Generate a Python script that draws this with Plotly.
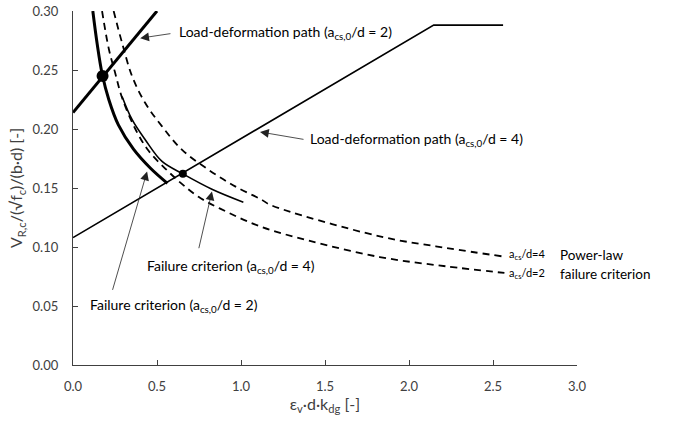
import plotly.graph_objects as go

# ---- data ----
ld2_x = [0.0, 0.50]
ld2_y = [0.214, 0.300]

ld4_x = [0.0, 2.147, 2.56]
ld4_y = [0.108, 0.288, 0.288]

fc2_x = [0.118, 0.144, 0.173, 0.213, 0.27, 0.36, 0.46, 0.562]
fc2_y = [0.300, 0.272, 0.247, 0.225, 0.2035, 0.183, 0.167, 0.154]

fc4_x = [0.292, 0.352, 0.43, 0.53, 0.654, 0.827, 1.014]
fc4_y = [0.2276, 0.2079, 0.1909, 0.1725, 0.162, 0.149, 0.138]

pl2_x = [0.173, 0.213, 0.25, 0.292, 0.371, 0.45, 0.549, 0.648, 0.747, 0.876, 1.113, 1.4, 1.826, 2.222, 2.568]
pl2_y = [0.300, 0.268, 0.248, 0.2265, 0.200, 0.1815, 0.1665, 0.1535, 0.1425, 0.1325, 0.1175, 0.1055, 0.0915, 0.0836, 0.078]

pl4_x = [0.242, 0.292, 0.352, 0.43, 0.53, 0.648, 0.806, 0.965, 1.124, 1.173, 1.826, 2.222, 2.558]
pl4_y = [0.300, 0.273, 0.2446, 0.222, 0.2022, 0.1825, 0.1655, 0.1514, 0.140, 0.1358, 0.109, 0.0992, 0.092]

pts_big = ([0.176], [0.245])
pts_small = ([0.654], [0.162])

x_ticks = [0.0, 0.5, 1.0, 1.5, 2.0, 2.5, 3.0]
y_ticks = [0.00, 0.05, 0.10, 0.15, 0.20, 0.25, 0.30]

FONT = "Lato"
fig = go.Figure()

dash = "7px,5px"
fig.add_trace(go.Scatter(x=pl2_x, y=pl2_y, mode="lines", line=dict(color="black", width=1.8, dash=dash, shape="spline")))
fig.add_trace(go.Scatter(x=pl4_x, y=pl4_y, mode="lines", line=dict(color="black", width=1.8, dash=dash, shape="spline")))
fig.add_trace(go.Scatter(x=ld4_x, y=ld4_y, mode="lines", line=dict(color="black", width=1.6)))
fig.add_trace(go.Scatter(x=fc4_x, y=fc4_y, mode="lines", line=dict(color="black", width=1.6, shape="spline")))
fig.add_trace(go.Scatter(x=ld2_x, y=ld2_y, mode="lines", line=dict(color="black", width=3)))
fig.add_trace(go.Scatter(x=fc2_x, y=fc2_y, mode="lines", line=dict(color="black", width=3, shape="spline")))
fig.add_trace(go.Scatter(x=pts_big[0], y=pts_big[1], mode="markers", marker=dict(color="black", size=12)))
fig.add_trace(go.Scatter(x=pts_small[0], y=pts_small[1], mode="markers", marker=dict(color="black", size=8)))

texts = [
    ("Load-deformation path (a<sub>cs,0</sub>/d = 2)", 0.619, 0.2816, 14),
    ("Load-deformation path (a<sub>cs,0</sub>/d = 4)", 1.398, 0.191, 14),
    ("Failure criterion (a<sub>cs,0</sub>/d = 4)", 0.43, 0.0836, 14),
    ("Failure criterion (a<sub>cs,0</sub>/d = 2)", 0.088, 0.0503, 14),
    ("a<sub>cs</sub>/d=4", 2.586, 0.0935, 11),
    ("Power-law", 2.885, 0.0935, 13.5),
    ("a<sub>cs</sub>/d=2", 2.586, 0.0774, 11),
    ("failure criterion", 2.885, 0.0774, 13.5),
]
for t, x, y, s in texts:
    fig.add_annotation(x=x, y=y, xref="x", yref="y", text=t, showarrow=False,
                       xanchor="left", yanchor="middle", font=dict(family=FONT, size=s, color="black"))

arrows = [
    (0.40, 0.277, 0.589, 0.281),
    (1.113, 0.1975, 1.381, 0.191),
    (0.827, 0.147, 0.747, 0.0977),
    (0.441, 0.164, 0.233, 0.0624),
]
for x, y, ax, ay in arrows:
    fig.add_annotation(x=x, y=y, ax=ax, ay=ay, xref="x", yref="y", axref="x", ayref="y",
                       text="", showarrow=True, arrowhead=2, arrowsize=2.2, arrowwidth=0.8,
                       arrowcolor="#222222")

axis_common = dict(showgrid=False, zeroline=False, showline=True, linecolor="#404040", linewidth=1.3,
                   ticks="inside", ticklen=5, tickwidth=1.2, tickcolor="#404040",
                   tickfont=dict(family=FONT, size=13, color="#404040"))

fig.update_xaxes(range=[0, 3.0], tickvals=x_ticks, ticktext=[f"{v:.1f}" for v in x_ticks],
                 ticklabelstandoff=9,
                 title=dict(text="ε<sub>v</sub>·d·k<sub>dg</sub> [-]", font=dict(family=FONT, size=16, color="#404040"), standoff=5),
                 **axis_common)
fig.update_yaxes(range=[0, 0.30], tickvals=y_ticks, ticktext=[f"{v:.2f}" for v in y_ticks],
                 ticklabelstandoff=11,
                 title=dict(text="V<sub>R,c</sub>/(√f<sub>c</sub>)/(b·d) [-]", font=dict(family=FONT, size=16, color="#404040"), standoff=5),
                 **axis_common)

fig.update_layout(width=673, height=427, margin=dict(l=72.5, r=95.5, t=11.3, b=61.7, autoexpand=False),
                  plot_bgcolor="white", paper_bgcolor="white", showlegend=False)

fig.write_html("out.html")
